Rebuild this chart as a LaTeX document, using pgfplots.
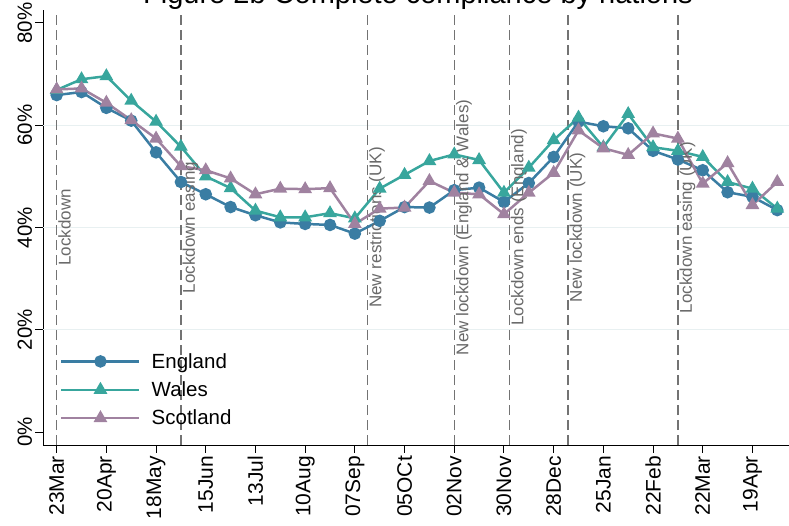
\documentclass[border=0pt]{standalone}
\usepackage{fontspec}
\setmainfont{Liberation Sans}
\usepackage{pgfplots}
\pgfplotsset{compat=1.18}
\definecolor{eng}{RGB}{58,125,163}
\definecolor{wal}{RGB}{56,166,157}
\definecolor{sco}{RGB}{160,130,160}
\definecolor{gridc}{RGB}{232,240,241}
\definecolor{vline}{RGB}{115,115,115}
\definecolor{annot}{RGB}{105,105,105}

\pgfplotstableread{
x eng wal sco
0 65.9 66.9 67.0
14 66.5 69.0 67.2
28 63.4 69.6 64.4
42 60.9 64.8 61.0
56 54.7 60.7 57.4
70 48.9 55.8 52.0
84 46.5 50.0 51.2
98 44.0 47.7 49.6
112 42.4 43.3 46.5
126 41.0 42.0 47.6
140 40.7 42.0 47.5
154 40.5 42.8 47.7
168 38.8 41.8 40.7
182 41.3 47.6 43.7
196 44.0 50.3 43.9
210 43.9 53.0 49.1
224 47.3 54.3 46.8
238 47.8 53.2 46.5
252 45.0 46.8 42.6
266 48.7 51.7 46.8
280 53.8 57.1 50.7
294 60.7 61.5 59.0
308 59.8 55.7 55.5
322 59.4 62.2 54.2
336 55.0 55.7 58.4
350 53.3 55.0 57.4
364 51.2 53.8 48.6
378 46.9 48.9 52.6
392 46.0 47.6 44.4
406 43.4 43.7 48.9
}\datatable

\begin{document}
\begin{tikzpicture}
\begin{axis}[
  at={(43pt,80pt)}, anchor=south west,
  scale only axis, width=746pt, height=435pt,
  xmin=-7.7, xmax=412.6, ymin=-2.54, ymax=82.54,
  axis x line*=bottom, axis y line*=left,
  tick align=outside, major tick length=7.5pt,
  tick style={black, line width=1pt},
  axis line style={black, line width=1pt},
  xtick={0,28,...,392},
  xticklabels={23Mar,20Apr,18May,15Jun,13Jul,10Aug,07Sep,05OCt,02Nov,30Nov,28Dec,25Jan,22Feb,22Mar,19Apr},
  ytick={0,20,40,60,80},
  yticklabels={0\%,20\%,40\%,60\%,80\%},
  xticklabel style={rotate=90, anchor=east, font=\fontsize{21}{22}\selectfont},
  yticklabel style={rotate=90, anchor=south, font=\fontsize{20.5}{22}\selectfont},
  extra y ticks={20,40,60}, extra y tick labels={},
  extra y tick style={grid=major, major tick length=0pt},
  grid style={gridc, line width=1pt},
  legend style={at={(0.0228,0.216)}, anchor=north west, draw=none, fill=none,
    font=\fontsize{20.5}{22}\selectfont, row sep=8pt, inner sep=0pt,
    /tikz/every odd column/.append style={column sep=9pt}},
  legend cell align=left,
  legend image code/.code={\draw[mark repeat=2,mark phase=2] plot coordinates {(0pt,0pt)(39pt,0pt)(78pt,0pt)};},
  clip=false,
]
\foreach \d in {0,70,175,224,255,288,350}{
  \edef\tmp{\noexpand\addplot[forget plot, vline, line width=1.3pt, dash pattern=on 10pt off 5pt] coordinates {(\d,-2.54) (\d,82.54)};}
  \tmp
}
\addplot[eng, line width=2.5pt, mark=*, mark size=5pt, mark options={solid, fill=eng}] table[x=x,y=eng]{\datatable};
\addlegendentry{England}
\addplot[wal, line width=2.5pt, mark=triangle*, mark size=5.5pt, mark options={solid, fill=wal}] table[x=x,y=wal]{\datatable};
\addlegendentry{Wales}
\addplot[sco, line width=2.5pt, mark=triangle*, mark size=5.5pt, mark options={solid, fill=sco}] table[x=x,y=sco]{\datatable};
\addlegendentry{Scotland}
\begin{scope}[every node/.style={rotate=90, anchor=north, inner sep=1.5pt, text=annot, font=\fontsize{17}{18}\selectfont}]
\node at (axis cs:0,40) {Lockdown};
\node at (axis cs:70,40) {Lockdown easing};
\node at (axis cs:175,40) {New restrictions (UK)};
\node at (axis cs:224,40) {New lockdown (England \& Wales)};
\node at (axis cs:255,40) {Lockdown ends (England)};
\node at (axis cs:288,40) {New lockdown (UK)};
\node at (axis cs:350,40) {Lockdown easing (UK)};
\end{scope}
\end{axis}
\node[font=\fontsize{29}{30}\selectfont, anchor=base] at (418pt,521pt) {Figure 2b Complete compliance by nations};
\pgfresetboundingbox
\useasboundingbox (0pt,0pt) rectangle (789pt,525pt);
\end{tikzpicture}
\end{document}
